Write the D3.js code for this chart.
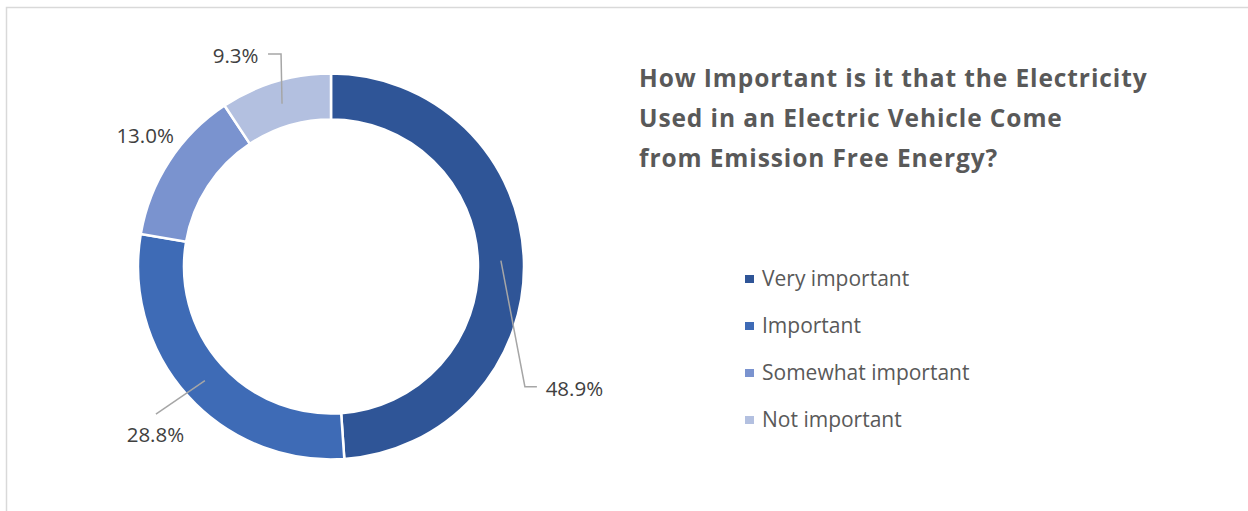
<!DOCTYPE html>
<html>
<head>
<meta charset="utf-8">
<script src="https://cdn.jsdelivr.net/npm/d3@7"></script>
<style>
    body { margin: 0; background: #fff; }
    #chart-area { width: 1248px; height: 511px; }
    text { font-family: "Open Sans", "Noto Sans", sans-serif; }
</style>
</head>
<body>
<div id="chart-area"></div>
<script>
// data
const categories = ["Very important", "Important", "Somewhat important", "Not important"];
const shares = [48.9, 28.8, 13.0, 9.3];
const titleLines = [
    "How Important is it that the Electricity",
    "Used in an Electric Vehicle Come",
    "from Emission Free Energy?"
];

// label layout, offsets from each slice centroid (label centre / leader points)
const labelOffsets = [
    { dx: 73.5, dy: 135.5, leader: [[24, 126], [36, 126]] },
    { dx: -49.5, dy: 61, leader: [[-49, 33.5]] },
    { dx: -43.5, dy: -30.5, leader: [] },
    { dx: -46.5, dy: -40.5, leader: [[-1, -49.7], [-14, -49.7]] }
];

class DonutVis {
    constructor(_parentElement) {
        this.parentElement = _parentElement;
        this.initVis();
    }

    initVis() {
        let vis = this;

        vis.width = 1248;
        vis.height = 511;
        vis.cx = 331;
        vis.cy = 266.5;
        vis.outerRadius = 193;
        vis.innerRadius = 147;

        vis.svg = d3.select(`#${vis.parentElement}`)
            .append("svg")
            .attr("width", vis.width)
            .attr("height", vis.height);

        // chart frame
        vis.svg.append("rect")
            .attr("x", 6.5)
            .attr("y", 7.5)
            .attr("width", vis.width + 20)
            .attr("height", vis.height + 20)
            .attr("fill", "none")
            .attr("stroke", "#d9d9d9")
            .attr("stroke-width", 1.5);

        vis.colorScale = d3.scaleOrdinal()
            .domain(categories)
            .range(["#2f5597", "#3e6bb6", "#7a93cf", "#b3c0e0"]);

        vis.pie = d3.pie().sort(null).value(d => d.value);
        vis.arc = d3.arc().innerRadius(vis.innerRadius).outerRadius(vis.outerRadius);

        vis.donut = vis.svg.append("g")
            .attr("transform", `translate(${vis.cx},${vis.cy})`);

        // title
        vis.svg.append("text")
            .attr("class", "title")
            .attr("x", 639)
            .attr("y", 87)
            .attr("fill", "#595959")
            .attr("font-size", "24.5px")
            .attr("letter-spacing", "0.9px")
            .attr("font-weight", "bold")
            .selectAll("tspan")
            .data(titleLines)
            .enter()
            .append("tspan")
            .attr("x", 639)
            .attr("dy", (d, i) => i === 0 ? 0 : 40)
            .text(d => d);

        // legend
        const legend = vis.svg.append("g")
            .attr("class", "legend")
            .attr("transform", "translate(745, 275)");

        categories.forEach((c, i) => {
            const row = legend.append("g")
                .attr("transform", `translate(0, ${i * 47})`);

            row.append("rect")
                .attr("width", 9)
                .attr("height", 8)
                .attr("fill", vis.colorScale(c));

            row.append("text")
                .attr("x", 17)
                .attr("y", 11)
                .attr("fill", "#595959")
                .style("font-size", "21px")
                .text(c);
        });

        vis.wrangleData();
    }

    wrangleData() {
        let vis = this;
        vis.displayData = categories.map((c, i) => ({
            category: c,
            value: shares[i],
            label: shares[i].toFixed(1) + "%",
            offset: labelOffsets[i]
        }));
        vis.updateVis();
    }

    updateVis() {
        let vis = this;
        const arcs = vis.pie(vis.displayData);

        vis.donut.selectAll("path.slice")
            .data(arcs)
            .enter()
            .append("path")
            .attr("class", "slice")
            .attr("d", vis.arc)
            .attr("fill", d => vis.colorScale(d.data.category))
            .attr("stroke", "#fff")
            .attr("stroke-width", 2.5);

        // leader lines
        vis.donut.selectAll("path.leader")
            .data(arcs.filter(d => d.data.offset.leader.length))
            .enter()
            .append("path")
            .attr("class", "leader")
            .attr("d", d => {
                const c = vis.arc.centroid(d);
                const pts = [c].concat(d.data.offset.leader.map(p => [c[0] + p[0], c[1] + p[1]]));
                return d3.line()(pts);
            })
            .attr("fill", "none")
            .attr("stroke", "#a6a6a6")
            .attr("stroke-width", 1.5);

        // data labels
        vis.donut.selectAll("text.data-label")
            .data(arcs)
            .enter()
            .append("text")
            .attr("class", "data-label")
            .attr("x", d => vis.arc.centroid(d)[0] + d.data.offset.dx)
            .attr("y", d => vis.arc.centroid(d)[1] + d.data.offset.dy)
            .attr("text-anchor", "middle")
            .attr("fill", "#404040")
            .style("font-size", "20.5px")
            .text(d => d.data.label);
    }
}

new DonutVis("chart-area");
</script>
</body>
</html>
